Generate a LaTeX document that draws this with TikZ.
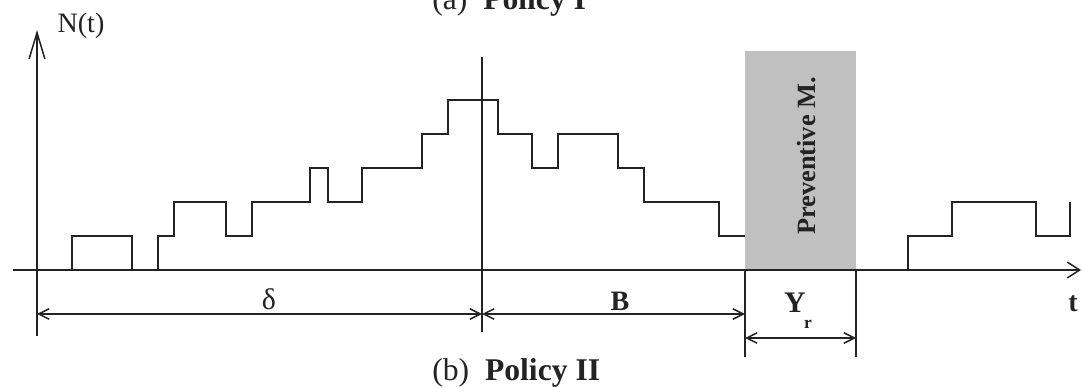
\documentclass[tikz,border=0pt]{standalone}
\usepackage{fontspec}
\setmainfont{Liberation Serif}
\usetikzlibrary{arrows.meta}
\definecolor{inkdark}{RGB}{35,35,35}
\definecolor{pmgray}{RGB}{192,192,192}

\begin{document}
\begin{tikzpicture}[
    x=0.02cm, y=-0.02cm,
    every node/.style={inner sep=0pt, text=inkdark},
    axisline/.style={line width=0.85pt, draw=inkdark},
    stair/.style={line width=0.85pt, draw=inkdark, line join=miter},
    guide/.style={line width=0.85pt, draw=inkdark},
    dimarr/.style={{Straight Barb[length=6pt,width=6pt]}-{Straight Barb[length=6pt,width=6pt]}, line width=0.85pt, draw=inkdark},
    lbl/.style={font=\fontsize{16}{18}\selectfont\bfseries},
    ttl/.style={anchor=base west, font=\fontsize{18}{20}\selectfont}
]
\useasboundingbox (0,0) rectangle (1083,388);

% Maintenance window
\fill[pmgray] (745,51) rectangle (856,270);
\node[lbl, rotate=90, font=\fontsize{15}{17}\selectfont\bfseries] (pmlabel) at (807,156) {Preventive M.};

% Axes
\coordinate (origin) at (37,270);
\coordinate (ytop) at (37,30);
\coordinate (ybot) at (37,336);
\coordinate (xleft) at (13,270);
\coordinate (xright) at (1081,270);
\draw[axisline, -{Straight Barb[length=15pt,width=9pt]}] (ybot) -- (ytop);
\draw[axisline, -{Straight Barb[length=7pt,width=9pt]}] (xleft) -- (xright);

% Sample path N(t)
\draw[stair] (72,270) -- (72,236) -- (132,236) -- (132,270);
\draw[stair] (158,270) -- (158,236) -- (174,236) -- (174,202) -- (226,202) -- (226,236)
    -- (252,236) -- (252,202) -- (310,202) -- (310,168) -- (328,168) -- (328,202)
    -- (362,202) -- (362,168) -- (422,168) -- (422,134) -- (448,134) -- (448,100)
    -- (498,100) -- (498,134) -- (532,134) -- (532,168) -- (558,168) -- (558,134)
    -- (618,134) -- (618,168) -- (644,168) -- (644,202) -- (719,202) -- (719,236) -- (745,236);
\draw[stair] (908,270) -- (908,236) -- (952,236) -- (952,202) -- (1036,202) -- (1036,236)
    -- (1070,236) -- (1070,202);

% Guides
\coordinate (cuttop) at (482,57);
\coordinate (cutbot) at (482,332);
\coordinate (pmleft) at (745,270);
\coordinate (pmleftbot) at (745,357);
\coordinate (pmright) at (856,270);
\coordinate (pmrightbot) at (856,357);
\draw[guide] (cuttop) -- (cutbot);
\draw[guide] (pmleft) -- (pmleftbot);
\draw[guide] (pmright) -- (pmrightbot);

% Dimensions
\coordinate (dA) at (37,314);
\coordinate (dB) at (482,314);
\coordinate (dC) at (745,314);
\coordinate (yA) at (745,338);
\coordinate (yB) at (856,338);
\draw[dimarr] (dA) -- (dB);
\draw[dimarr] (dB) -- (dC);
\draw[dimarr] (yA) -- (yB);

% Labels
\node[font=\fontsize{16}{18}\selectfont] (nlabel) at (81,26) {N(t)};
\node[font=\fontsize{17}{19}\selectfont] (dlabel) at (269,299) {δ};
\node[lbl] (blabel) at (620,301) {B};
\node[lbl, anchor=base, font=\fontsize{17}{19}\selectfont\bfseries] (ylabel) at (798,313) {Y\kern-1pt\raisebox{-9pt}{\fontsize{10}{10}\selectfont r}};
\node[lbl] (tlabel) at (1073,304) {t};
\node[ttl] (titlea) at (432,10) {(a)\ \ \textbf{Policy I}};
\node[ttl] (titleb) at (432,381) {(b)\ \ \textbf{Policy II}};

\end{tikzpicture}
\end{document}
